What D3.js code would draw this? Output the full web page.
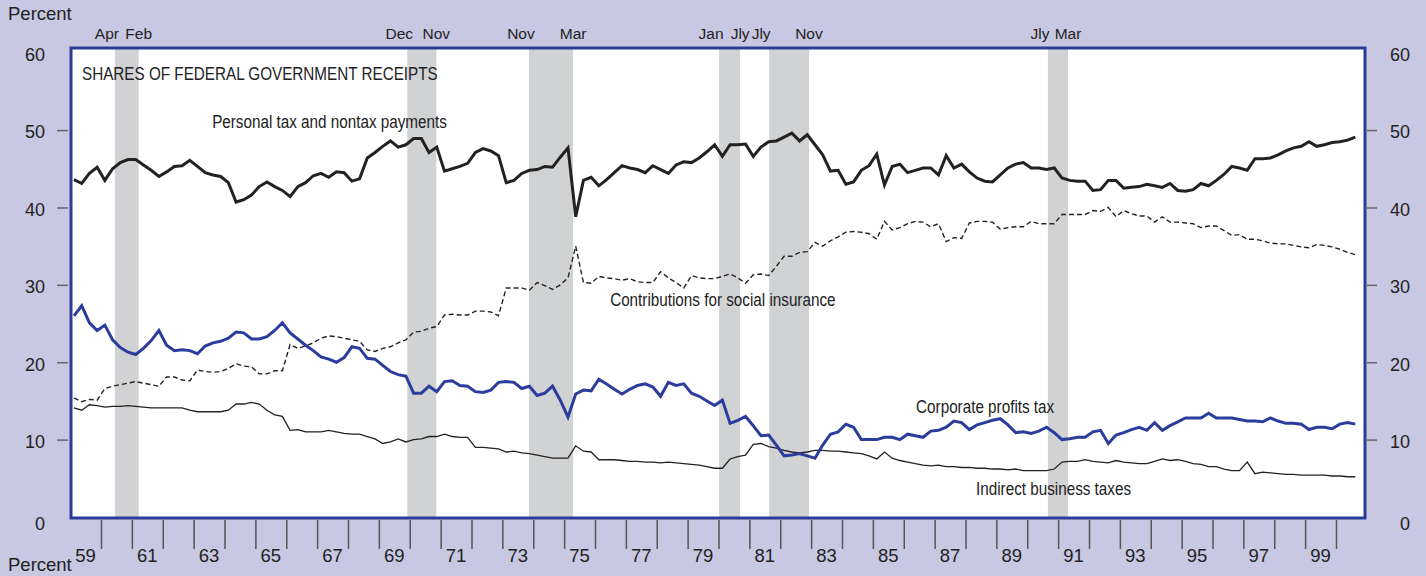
<!DOCTYPE html>
<html><head><meta charset="utf-8">
<script src="https://cdn.jsdelivr.net/npm/d3@7"></script>
<style>
html,body{margin:0;padding:0;background:#c8c8e2;}
svg{display:block;}
text{font-family:"Liberation Sans",Arial,Helvetica,sans-serif;fill:#222;}
</style></head><body>
<svg id="chart" width="1426" height="576"></svg>
<script>
// Quarterly data, 1959Q1 .. 2000Q3 (percent of federal government receipts)
const startYear = 1959;
const personal = [43.6,43.1,44.4,45.2, 43.5,45.0,45.8,46.2, 46.2,45.5,44.8,44.0, 44.6,45.3,45.4,46.1,
  45.3,44.5,44.2,44.0, 43.2,40.7,41.0,41.6, 42.7,43.3,42.7,42.2, 41.4,42.7,43.2,44.1,
  44.4,43.9,44.6,44.5, 43.4,43.7,46.4,47.1, 47.9,48.6,47.8,48.1, 48.9,48.9,47.1,47.8,
  44.7,45.0,45.3,45.7, 47.1,47.6,47.3,46.7, 43.2,43.5,44.4,44.8, 44.9,45.3,45.2,46.5,
  47.7,38.8,43.5,43.9, 42.8,43.6,44.5,45.4, 45.1,44.9,44.5,45.4, 44.9,44.4,45.5,45.9,
  45.8,46.4,47.2,48.1, 46.6,48.1,48.1,48.2, 46.6,47.8,48.5,48.6, 49.1,49.6,48.6,49.4,
  48.1,46.8,44.7,44.8, 43.0,43.3,44.8,45.4, 46.9,42.9,45.3,45.6, 44.5,44.8,45.1,45.1,
  44.2,46.7,45.1,45.6, 44.6,43.8,43.4,43.3, 44.2,45.1,45.6,45.8, 45.1,45.1,44.9,45.1,
  43.8,43.5,43.4,43.4, 42.2,42.3,43.5,43.5, 42.5,42.6,42.7,43.0, 42.8,42.6,43.1,42.2,
  42.1,42.3,43.1,42.8, 43.5,44.3,45.3,45.1, 44.8,46.3,46.3,46.4, 46.8,47.3,47.7,47.9,
  48.5,47.9,48.1,48.4, 48.5,48.7,49.1];
const contributions = [15.4,14.9,15.2,15.1, 16.6,16.9,17.1,17.3, 17.5,17.3,17.1,16.9, 18.1,18.1,17.7,17.6,
  19.0,18.8,18.7,18.8, 19.2,19.8,19.5,19.4, 18.5,18.5,18.9,18.9, 22.3,21.8,22.1,22.5,
  23.1,23.4,23.3,23.1, 22.9,22.7,21.6,21.4, 21.8,22.0,22.5,22.9, 23.9,24.0,24.4,24.6,
  26.1,26.2,26.1,26.1, 26.6,26.6,26.5,26.0, 29.6,29.6,29.6,29.3, 30.3,29.9,29.4,30.0,
  30.9,35.0,30.3,30.2, 31.1,30.9,30.8,30.6, 30.8,30.4,30.3,30.3, 31.7,30.9,30.3,29.6,
  31.2,30.9,30.8,30.8, 31.1,31.4,30.9,30.2, 31.3,31.4,31.2,32.4, 33.7,33.7,34.2,34.3,
  35.5,35.0,35.7,36.2, 36.8,36.9,36.8,36.6, 35.9,38.2,37.1,37.4, 37.9,38.2,38.1,37.5,
  37.9,35.6,36.1,36.0, 38.0,38.2,38.2,38.1, 37.2,37.4,37.5,37.5, 38.2,37.9,37.9,37.9,
  39.1,39.1,39.1,39.1, 39.6,39.5,40.0,38.8, 39.6,39.2,38.9,38.9, 38.1,38.8,38.1,38.1,
  38.0,37.9,37.4,37.6, 37.6,37.0,36.4,36.5, 35.9,35.9,35.7,35.4, 35.3,35.3,35.1,34.9,
  34.8,35.2,35.1,34.9, 34.6,34.2,33.9];
const corporate = [26.0,27.3,25.1,24.1, 24.8,22.9,21.9,21.3, 21.0,21.8,22.8,24.1, 22.2,21.5,21.6,21.5,
  21.1,22.1,22.5,22.7, 23.1,23.9,23.8,23.0, 23.0,23.3,24.1,25.1, 23.8,23.0,22.2,21.5,
  20.7,20.4,20.0,20.6, 22.0,21.8,20.5,20.4, 19.6,18.8,18.4,18.2, 16.0,16.0,16.9,16.2,
  17.5,17.6,17.0,16.9, 16.2,16.1,16.4,17.4, 17.5,17.4,16.6,16.9, 15.7,16.0,16.9,15.1,
  12.9,15.9,16.4,16.3, 17.8,17.2,16.5,15.9, 16.5,17.0,17.2,16.8, 15.6,17.4,17.0,17.2,
  16.0,15.6,15.0,14.4, 15.1,12.1,12.5,13.0, 11.8,10.5,10.6,9.3, 7.9,8.0,8.2,7.9,
  7.6,9.3,10.7,11.0, 12.0,11.6,10.0,10.0, 10.0,10.3,10.3,10.0, 10.7,10.5,10.3,11.1,
  11.2,11.6,12.4,12.2, 11.3,11.9,12.2,12.5, 12.7,11.9,10.9,11.0, 10.8,11.1,11.6,10.9,
  10.0,10.1,10.3,10.3, 11.0,11.2,9.5,10.6, 10.9,11.3,11.6,11.2, 12.2,11.2,11.8,12.3,
  12.8,12.8,12.8,13.4, 12.8,12.8,12.8,12.6, 12.4,12.4,12.3,12.8, 12.4,12.1,12.1,12.0,
  11.3,11.6,11.6,11.4, 12.0,12.2,12.0];
const indirect = [14.1,13.8,14.5,14.4, 14.2,14.3,14.3,14.4, 14.3,14.2,14.1,14.1, 14.1,14.1,14.1,13.8,
  13.6,13.6,13.6,13.6, 13.8,14.6,14.6,14.8, 14.6,13.8,13.2,13.0, 11.2,11.3,11.0,11.0,
  11.0,11.2,11.0,10.8, 10.7,10.7,10.4,10.1, 9.5,9.7,10.1,9.7, 10.0,10.1,10.4,10.4,
  10.7,10.4,10.3,10.3, 9.0,9.0,8.9,8.8, 8.4,8.5,8.3,8.2, 8.0,7.8,7.6,7.6,
  7.6,9.2,8.5,8.4, 7.4,7.4,7.4,7.3, 7.2,7.2,7.1,7.1, 7.0,7.1,7.0,6.9,
  6.8,6.7,6.5,6.3, 6.3,7.5,7.8,8.0, 9.4,9.5,9.1,8.9, 8.6,8.4,8.3,8.4,
  8.6,8.6,8.5,8.5, 8.4,8.3,8.2,7.9, 7.5,8.4,7.6,7.3, 7.1,6.9,6.7,6.6,
  6.7,6.5,6.5,6.4, 6.4,6.3,6.3,6.2, 6.2,6.1,6.2,6.0, 6.0,6.0,6.0,6.2,
  7.1,7.2,7.2,7.4, 7.2,7.1,7.0,7.3, 7.1,7.0,6.9,6.9, 7.2,7.5,7.3,7.4,
  7.2,6.9,6.8,6.5, 6.5,6.2,6.0,6.0, 7.1,5.6,5.8,5.7, 5.6,5.5,5.5,5.4,
  5.4,5.4,5.4,5.3, 5.3,5.2,5.2];

const recessionStart = [1960.45, 1969.92, 1973.86, 1980.02, 1981.64, 1990.67];
const recessionEnd   = [1961.22, 1970.86, 1975.29, 1980.70, 1982.93, 1991.32];
const recessionStartLabel = ["Apr","Dec","Nov","Jan","Jly","Jly"];
const recessionEndLabel   = ["Feb","Nov","Mar","Jly","Nov","Mar"];
const yTickValues = [0,10,20,30,40,50,60];
const xTickYears = d3.range(1960, 2001);
const xLabelYears = d3.range(1959, 2000, 2);

// ---- layout ----
const W = 1426, H = 576;
const L = 71, R = 1365, T = 48, B = 518;
const svg = d3.select("#chart");
const x = d3.scaleLinear().domain([1960, 2000]).range([101, 1336]);
const y = d3.scaleLinear().domain([0, 60]).range([517, 52.7]);
const qx = (d, i) => x(startYear + (i + 0.5) / 4);

svg.append("rect").attr("width", W).attr("height", H).attr("fill", "#c8c8e2");
svg.append("rect").attr("x", L).attr("y", T).attr("width", R - L).attr("height", B - T).attr("fill", "#fff");

// recession bands
const bands = recessionStart.map((s, i) => ({s, e: recessionEnd[i], sl: recessionStartLabel[i], el: recessionEndLabel[i]}));
svg.append("g").selectAll("rect").data(bands).join("rect")
  .attr("x", d => x(d.s)).attr("width", d => x(d.e) - x(d.s))
  .attr("y", T).attr("height", B - T).attr("fill", "#d1d2d4");
const bl = svg.append("g").style("font-size", "15.5px").attr("text-anchor", "middle");
bl.selectAll("text.s").data(bands).join("text").attr("class", "s")
  .attr("x", d => x(d.s) - 8).attr("y", 39).text(d => d.sl);
bl.selectAll("text.e").data(bands).join("text").attr("class", "e")
  .attr("x", d => x(d.e) + 0).attr("y", 39).text(d => d.el);

// lines
const line = d3.line().x(qx).y(d => y(d));
const g = svg.append("g").attr("fill", "none").attr("stroke-linejoin", "miter");
g.append("path").datum(indirect).attr("d", line).attr("stroke", "#222").attr("stroke-width", 1.3);
g.append("path").datum(contributions).attr("d", line).attr("stroke", "#222").attr("stroke-width", 1.4).attr("stroke-dasharray", "5,3");
g.append("path").datum(corporate).attr("d", line).attr("stroke", "#2b3d9c").attr("stroke-width", 3);
g.append("path").datum(personal).attr("d", line).attr("stroke", "#222").attr("stroke-width", 3);

// frame
svg.append("rect").attr("x", L).attr("y", T).attr("width", R - L).attr("height", B - T)
  .attr("fill", "none").attr("stroke", "#2b3c98").attr("stroke-width", 3);

// annotations (condensed lettering)
const condensed = 0.825;
function note(px, py, txt) {
  svg.append("text").attr("transform", `translate(${px},${py}) scale(${condensed},1)`)
    .style("font-size", "18.5px").text(txt);
}
note(82, 80, "SHARES OF FEDERAL GOVERNMENT RECEIPTS");
note(x(1963.6), 128, "Personal tax and nontax payments");
note(x(1976.49), 306, "Contributions for social insurance");
note(x(1986.4), 413, "Corporate profits tax");
note(x(1988.34), 495, "Indirect business taxes");

// y axes
const inner = yTickValues.filter(v => v > 0 && v < 60);
const yAxL = svg.append("g").attr("transform", "translate(68,0)")
  .call(d3.axisLeft(y).tickValues(inner).tickSize(11).tickFormat(""));
const yAxR = svg.append("g").attr("transform", "translate(1367,0)")
  .call(d3.axisRight(y).tickValues(inner).tickSize(10).tickFormat(""));
[yAxL, yAxR].forEach(a => { a.select(".domain").remove(); a.selectAll("line").attr("stroke", "#666").attr("stroke-width", 1.5); });
const labY = v => y(v) + (v === 0 ? 7 : 2);
const yl = svg.append("g").style("font-size", "18px");
yl.selectAll("text.l").data(yTickValues).join("text").attr("class", "l")
  .attr("x", 45).attr("y", labY).attr("dy", "0.35em").attr("text-anchor", "end").text(d => d);
yl.selectAll("text.r").data(yTickValues).join("text").attr("class", "r")
  .attr("x", 1410).attr("y", labY).attr("dy", "0.35em").attr("text-anchor", "end").text(d => d);

// x axis
const xAx = svg.append("g").attr("transform", "translate(0,520)")
  .call(d3.axisBottom(x).tickValues(xTickYears).tickSize(29).tickFormat(""));
xAx.select(".domain").remove();
xAx.selectAll("line").attr("stroke", "#555").attr("stroke-width", 1.5);
svg.append("g").style("font-size", "18.5px").selectAll("text").data(xLabelYears).join("text")
  .attr("x", d => x(d + 0.5)).attr("y", 562).attr("text-anchor", "middle")
  .text(d => String(d % 100).padStart(2, "0"));

// unit labels
svg.append("text").attr("x", 8).attr("y", 20).style("font-size", "18.5px").text("Percent");
svg.append("text").attr("x", 8).attr("y", 571).style("font-size", "18.5px").text("Percent");
</script>
</body></html>
